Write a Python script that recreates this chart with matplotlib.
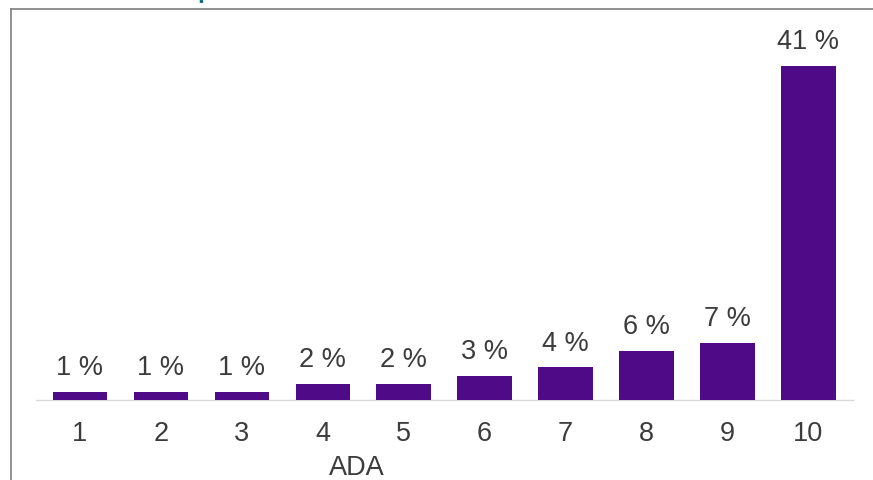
import matplotlib
matplotlib.use("Agg")
import matplotlib.pyplot as plt
from matplotlib.lines import Line2D

plt.rcParams['font.family'] = ['Liberation Sans', 'DejaVu Sans']

categories = ['1', '2', '3', '4', '5', '6', '7', '8', '9', '10']
shares = [1, 1, 1, 2, 2, 3, 4, 6, 7, 41]
value_labels = ['1 %', '1 %', '1 %', '2 %', '2 %', '3 %', '4 %', '6 %', '7 %', '41 %']

bar_color = '#4e0a87'
text_color = '#3c3c3c'
fs = 19.5

W, H = 873, 481
fig = plt.figure(figsize=(W / 100, H / 100), dpi=100)
fig.patch.set_facecolor('white')

ax = fig.add_axes([36 / W, 1 - 401 / H, (853 - 36) / W, (401 - 10) / H])
x = list(range(1, len(categories) + 1))
bars = ax.bar(x, shares, width=0.67, color=bar_color, zorder=3)

for rect, lab in zip(bars, value_labels):
    ax.annotate(lab, (rect.get_x() + rect.get_width() / 2, rect.get_height()),
                xytext=(0, 8.5), textcoords='offset points',
                ha='center', va='bottom', fontsize=fs, color=text_color)

ax.set_xlim(0.46, 10.55)
ax.set_ylim(0, 48)
ax.set_xticks(x)
ax.set_xticklabels(categories)
ax.tick_params(axis='x', length=0, pad=14.5, labelsize=fs, labelcolor=text_color)
ax.set_yticks([])
for side in ['top', 'left', 'right']:
    ax.spines[side].set_visible(False)
ax.spines['bottom'].set_color('#d9d9d9')
ax.spines['bottom'].set_linewidth(1)

fig.text(357 / W, 1 - 475 / H, 'ADA', ha='center', va='baseline',
         fontsize=fs, color=text_color)

# outer frame (left and top edges)
frame = '#7f7f7f'
fig.add_artist(Line2D([11 / W, 11 / W], [0, 1 - 10 / H], color=frame, lw=1.2,
                      transform=fig.transFigure))
fig.add_artist(Line2D([11 / W, 1], [1 - 10 / H, 1 - 10 / H], color=frame, lw=1.2,
                      transform=fig.transFigure))

# tail of the heading above the frame
fig.text(197 / W, 1 + 2 / H, 'p', ha='left', va='baseline',
         fontsize=18, color='#17707f', fontweight='bold')

fig.savefig('out.png', dpi=100)
